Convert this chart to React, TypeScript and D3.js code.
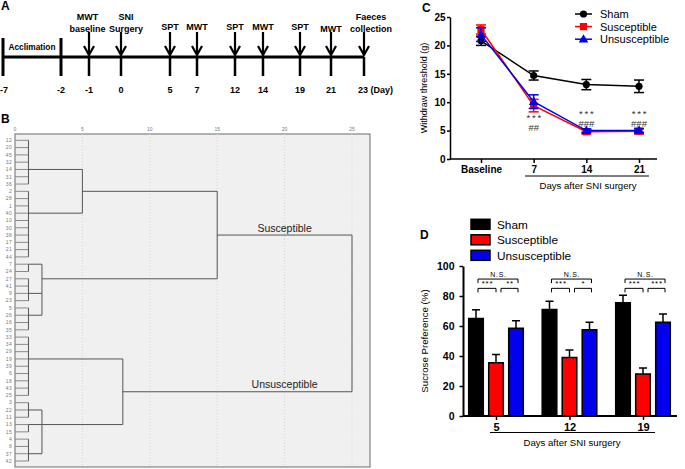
import React, { useRef, useEffect } from 'react';
import * as d3 from 'd3';

const FONT = '"Liberation Sans", Arial, sans-serif';

// ── Panel A: experimental timeline ──────────────────────────────────────────
const timelineDays = [-7, -2, -1, 0, 5, 7, 12, 14, 19, 21, 23];
const phaseDays = [-7, -2]; // acclimation period bounds
const timelineEvents = [
  { day: -1, label: ['MWT', 'baseline'] },
  { day: 0, label: ['SNI', 'Surgery'] },
  { day: 5, label: ['SPT'] },
  { day: 7, label: ['MWT'] },
  { day: 12, label: ['SPT'] },
  { day: 14, label: ['MWT'] },
  { day: 19, label: ['SPT'] },
  { day: 21, label: ['MWT'] },
  { day: 23, label: ['Faeces', 'collection'] },
];
// schematic (not to scale) horizontal stops for the timeline days
const timelineStops = [3, 61, 89, 121, 170, 197, 235, 263, 300, 331, 364];
// small horizontal nudges of the two-line event labels, as in the figure
const labelNudge: Record<string, number> = { '-1': -1.5, '0': 5, '23': 7 };

// ── Panel B: hierarchical clustering dendrogram ─────────────────────────────
type DNode = { height: number; stem?: string; children: (DNode | string)[] };
const dendroTree: DNode = {
  height: 25,
  children: [
    {
      height: 15,
      children: [
        {
          height: 5,
          children: [
            { height: 1, stem: '14', children: ['12', '20', '45', '32', '14', '31', '36'] },
            { height: 1, stem: '40', children: ['2', '28', '1', '40', '10', '30', '38', '17', '21', '44'] },
          ],
        },
        {
          height: 2,
          stem: '27',
          children: [
            { height: 1, stem: '7', children: ['7', '24'] },
            { height: 1, stem: '9', children: ['27', '41', '9', '23'] },
            { height: 1, stem: '26', children: ['5', '26', '16', '35'] },
          ],
        },
      ],
    },
    {
      height: 8,
      children: [
        { height: 1, stem: '19', children: ['33', '34', '29', '19', '39', '6', '18', '43', '25'] },
        {
          height: 2,
          stem: '13',
          children: [
            { height: 1, stem: '22', children: ['3', '22', '11'] },
            { height: 1, stem: '13', children: ['13', '15'] },
            { height: 1, stem: '37', children: ['4', '8', '37', '42'] },
          ],
        },
      ],
    },
  ],
};
const clusterNames = ['Susceptible', 'Unsusceptible'];
const dendroTicks = [0, 5, 10, 15, 20, 25];

// ── Panel C: mechanical withdrawal threshold ────────────────────────────────
const groupNames = ['Sham', 'Susceptible', 'Unsusceptible'];
const groupColors = ['#000000', '#ff0000', '#0000ee'];
const mwtCategories = ['Baseline', '7', '14', '21'];
const mwtSham = [20.8, 14.7, 13.1, 12.8];
const mwtShamErr = [0.8, 0.8, 0.9, 1.1];
const mwtSus = [22.8, 9.4, 4.8, 4.9];
const mwtSusErr = [0.8, 1.1, 0.4, 0.5];
const mwtUns = [21.9, 10.1, 5.0, 5.0];
const mwtUnsErr = [1.2, 1.2, 0.3, 0.3];
const mwtTicks = [0, 5, 10, 15, 20, 25];
const mwtMarks = [
  { cat: '7', stars: '***', hashes: '##' },
  { cat: '14', stars: '***', hashes: '###' },
  { cat: '21', stars: '***', hashes: '###' },
];

// ── Panel D: sucrose preference ─────────────────────────────────────────────
const sptDays = ['5', '12', '19'];
const sptSham = [65, 71, 75.5];
const sptShamErr = [5.8, 5.5, 5.0];
const sptSus = [35.5, 39, 28];
const sptSusErr = [5.5, 5.0, 4.0];
const sptUns = [58.5, 57.5, 62.5];
const sptUnsErr = [5.0, 5.0, 5.5];
const sptTicks = [0, 20, 40, 60, 80, 100];
const sptSig = [
  { day: '5', all: 'N.S.', left: '***', right: '**' },
  { day: '12', all: 'N.S.', left: '***', right: '*' },
  { day: '19', all: 'N.S.', left: '***', right: '***' },
];

type G = d3.Selection<SVGGElement, unknown, null, undefined>;

function panelLetter(g: G, letter: string, x: number, y: number) {
  g.append('text').attr('x', x).attr('y', y).attr('font-size', 12).attr('font-weight', 'bold').text(letter);
}

function drawTimeline(g: G) {
  const x = d3.scaleLinear().domain(timelineDays).range(timelineStops);
  const lineY = 57;
  panelLetter(g, 'A', 1, 10);

  g.append('line')
    .attr('x1', x(-7)).attr('x2', x(23))
    .attr('y1', lineY).attr('y2', lineY)
    .attr('stroke', '#000').attr('stroke-width', 3);

  timelineDays.forEach(d => {
    const tall = phaseDays.includes(d);
    g.append('line')
      .attr('x1', x(d)).attr('x2', x(d))
      .attr('y1', tall ? 38 : lineY).attr('y2', 76)
      .attr('stroke', '#000').attr('stroke-width', tall ? 3 : 2.5);
  });

  timelineDays.forEach((d, i) => {
    const last = i === timelineDays.length - 1;
    g.append('text')
      .attr('x', i === 0 ? 0 : last ? x(d) - 6 : x(d))
      .attr('y', 93)
      .attr('text-anchor', i === 0 || last ? 'start' : 'middle')
      .attr('font-size', 9).attr('font-weight', 'bold')
      .text(last ? `${d} (Day)` : `${d}`);
  });

  g.append('text')
    .attr('x', (x(phaseDays[0]) + x(phaseDays[1])) / 2).attr('y', 50)
    .attr('text-anchor', 'middle').attr('font-size', 8.3).attr('font-weight', 'bold')
    .text('Acclimation');

  timelineEvents.forEach(ev => {
    const cx = x(ev.day);
    g.append('line').attr('x1', cx).attr('x2', cx).attr('y1', 32).attr('y2', 54)
      .attr('stroke', '#000').attr('stroke-width', 2.2);
    g.append('path')
      .attr('d', `M${cx - 5},${46} L${cx},${55} L${cx + 5},${46}`)
      .attr('fill', 'none').attr('stroke', '#000').attr('stroke-width', 2.2);
    const lines = ev.label;
    const lx = cx + (labelNudge[String(ev.day)] || 0);
    lines.forEach((t, i) => {
      g.append('text')
        .attr('x', lx)
        .attr('y', lines.length === 2 ? 20 + i * 12 : ev.day === 21 ? 31.5 : 29.5)
        .attr('text-anchor', 'middle').attr('font-size', 9).attr('font-weight', 'bold')
        .text(t);
    });
  });
}

function collectLeaves(n: DNode | string, out: string[]) {
  if (typeof n === 'string') out.push(n);
  else n.children.forEach(c => collectLeaves(c, out));
  return out;
}

function drawDendrogram(g: G) {
  panelLetter(g, 'B', 1, 123);
  const leaves = collectLeaves(dendroTree, []);
  const xd = d3.scaleLinear().domain([0, 25]).range([15, 352]);
  const yd = d3.scalePoint<string>().domain(leaves).range([140.3, 461]);
  const top = 134, bottom = 467, right = 370;

  g.append('rect')
    .attr('x', xd(0)).attr('y', top)
    .attr('width', right - xd(0)).attr('height', bottom - top)
    .attr('fill', '#f0f0f0').attr('stroke', '#6a6a6a').attr('stroke-width', 1);

  dendroTicks.forEach(t => {
    if (t > 0) {
      g.append('line').attr('x1', xd(t)).attr('x2', xd(t)).attr('y1', top).attr('y2', bottom)
        .attr('stroke', '#d4d4d4').attr('stroke-dasharray', '1,2');
    }
    g.append('text').attr('x', xd(t)).attr('y', 131)
      .attr('text-anchor', 'middle').attr('font-size', 5).attr('fill', '#777').text(t);
  });

  leaves.forEach(l => {
    g.append('text').attr('x', 12.5).attr('y', (yd(l) as number) + 1.8)
      .attr('text-anchor', 'end').attr('font-size', 5).attr('letter-spacing', 0.6)
      .attr('fill', '#777').text(l);
  });

  const stemYs: number[] = [];
  const layout = (node: DNode, isRoot: boolean): number => {
    const ys = node.children.map(c => {
      if (typeof c === 'string') {
        const y = yd(c) as number;
        g.append('line').attr('x1', xd(0)).attr('x2', xd(node.height)).attr('y1', y).attr('y2', y)
          .attr('stroke', '#8a8a8a').attr('stroke-width', 1);
        return y;
      }
      const y = layout(c, false);
      g.append('line').attr('x1', xd(c.height)).attr('x2', xd(node.height)).attr('y1', y).attr('y2', y)
        .attr('stroke', '#555').attr('stroke-width', 1);
      if (isRoot) stemYs.push(y);
      return y;
    });
    const y0 = d3.min(ys) as number, y1 = d3.max(ys) as number;
    g.append('line').attr('x1', xd(node.height)).attr('x2', xd(node.height)).attr('y1', y0).attr('y2', y1)
      .attr('stroke', '#555').attr('stroke-width', 1);
    return node.stem ? (yd(node.stem) as number) : (y0 + y1) / 2;
  };
  layout(dendroTree, true);

  clusterNames.forEach((name, i) => {
    g.append('text').attr('x', xd(20)).attr('y', stemYs[i] - 3.5)
      .attr('text-anchor', 'middle').attr('font-size', 10.5).attr('fill', '#222').text(name);
  });
}

function drawThreshold(g: G) {
  panelLetter(g, 'C', 422, 12);
  const xC = d3.scalePoint<string>().domain(mwtCategories).range([481, 639]);
  const yC = d3.scaleLinear().domain([0, 25]).range([159, 17]);
  const axisX = 450, axisEnd = 657;

  const ya = g.append('g').attr('transform', `translate(${axisX},0)`)
    .call(d3.axisLeft(yC).tickValues(mwtTicks).tickSize(3).tickSizeOuter(0).tickPadding(1.5));
  ya.select('.domain').attr('stroke-width', 1.5);
  ya.selectAll('.tick line').attr('stroke-width', 1.5);
  ya.selectAll('.tick text').attr('font-size', 10).attr('font-weight', 'bold').attr('font-family', FONT);

  g.append('line').attr('x1', axisX).attr('x2', axisEnd).attr('y1', yC(0)).attr('y2', yC(0))
    .attr('stroke', '#000').attr('stroke-width', 1.5);
  const xa = g.append('g').attr('transform', `translate(0,${yC(0)})`)
    .call(d3.axisBottom(xC).tickSize(4).tickPadding(3));
  xa.select('.domain').remove();
  xa.selectAll('.tick line').attr('stroke-width', 1.5);
  xa.selectAll('.tick text').attr('font-size', 10).attr('font-weight', 'bold').attr('font-family', FONT);

  g.append('line').attr('x1', 525).attr('x2', 649).attr('y1', 176).attr('y2', 176)
    .attr('stroke', '#000').attr('stroke-width', 1);
  g.append('text').attr('x', 588).attr('y', 189).attr('text-anchor', 'middle')
    .attr('font-size', 9.6).text('Days after SNI surgery');

  g.append('text')
    .attr('transform', `translate(427,${(yC(0) + yC(25)) / 2}) rotate(-90)`)
    .attr('text-anchor', 'middle').attr('font-size', 9).text('Withdraw threshold (g)');

  const series = [
    { vals: mwtSham, errs: mwtShamErr },
    { vals: mwtSus, errs: mwtSusErr },
    { vals: mwtUns, errs: mwtUnsErr },
  ];
  const line = d3.line<number>().x((_, i) => xC(mwtCategories[i]) as number).y(v => yC(v));

  const marker = (sel: G, idx: number, cx: number, cy: number) => {
    const color = groupColors[idx];
    if (idx === 0) sel.append('circle').attr('cx', cx).attr('cy', cy).attr('r', 3.6).attr('fill', color);
    else if (idx === 1) sel.append('rect').attr('x', cx - 3.6).attr('y', cy - 3.6).attr('width', 7.2).attr('height', 7.2).attr('fill', color);
    else sel.append('path').attr('d', d3.symbol(d3.symbolTriangle, 40)()).attr('transform', `translate(${cx},${cy + 0.5})`).attr('fill', color);
  };

  series.forEach((s, si) => {
    const color = groupColors[si];
    g.append('path').datum(s.vals).attr('d', line).attr('fill', 'none')
      .attr('stroke', color).attr('stroke-width', 1.5);
    s.vals.forEach((v, i) => {
      const cx = xC(mwtCategories[i]) as number;
      const lo = yC(v - s.errs[i]), hi = yC(v + s.errs[i]);
      g.append('line').attr('x1', cx).attr('x2', cx).attr('y1', lo).attr('y2', hi)
        .attr('stroke', color).attr('stroke-width', 1.5);
      [lo, hi].forEach(yy => g.append('line').attr('x1', cx - 5).attr('x2', cx + 5).attr('y1', yy).attr('y2', yy)
        .attr('stroke', color).attr('stroke-width', 1.5));
      marker(g, si, cx, yC(v));
    });
  });

  // stacked significance marks (*** over ###)
  mwtMarks.forEach(m => {
    const cx = xC(m.cat) as number;
    const base = m.cat === '7' ? 120.5 : 116.5;
    g.append('text').attr('x', cx + 1).attr('y', base).attr('text-anchor', 'middle')
      .attr('font-size', 9.5).attr('letter-spacing', 1.8).attr('fill', '#333').text(m.stars);
    g.append('text').attr('x', cx).attr('y', base + 10.7).attr('text-anchor', 'middle')
      .attr('font-size', 9.5).attr('fill', '#333').text(m.hashes);
  });

  groupNames.forEach((name, i) => {
    const cy = 14 + i * 12.6;
    g.append('line').attr('x1', 575).attr('x2', 592).attr('y1', cy).attr('y2', cy)
      .attr('stroke', groupColors[i]).attr('stroke-width', 1.5);
    marker(g, i, 583.5, cy);
    g.append('text').attr('x', 600).attr('y', cy + 4).attr('font-size', 11).text(name);
  });
}

function drawSucrose(g: G) {
  panelLetter(g, 'D', 420, 239);
  const x0 = d3.scalePoint<string>().domain(sptDays).range([496, 643]);
  const x1 = d3.scaleBand<string>().domain(groupNames).range([-27.3, 27.3]).paddingInner(0.27);
  const yD = d3.scaleLinear().domain([0, 100]).range([416, 266]);
  const axisX = 463, axisEnd = 677;

  const ya = g.append('g').attr('transform', `translate(${axisX},0)`)
    .call(d3.axisLeft(yD).tickValues(sptTicks).tickSize(3.5).tickSizeOuter(0).tickPadding(5));
  ya.select('.domain').attr('stroke-width', 2);
  ya.selectAll('.tick line').attr('stroke-width', 1.5);
  ya.selectAll('.tick text').attr('font-size', 10.5).attr('font-weight', 'bold').attr('font-family', FONT);

  const series = [
    { vals: sptSham, errs: sptShamErr },
    { vals: sptSus, errs: sptSusErr },
    { vals: sptUns, errs: sptUnsErr },
  ];
  const bw = x1.bandwidth();
  series.forEach((s, si) => {
    s.vals.forEach((v, i) => {
      const bx = (x0(sptDays[i]) as number) + (x1(groupNames[si]) as number);
      const cx = bx + bw / 2;
      const top = yD(v + s.errs[i]);
      g.append('line').attr('x1', cx).attr('x2', cx).attr('y1', yD(v)).attr('y2', top)
        .attr('stroke', '#000').attr('stroke-width', 1.5);
      g.append('line').attr('x1', cx - 4).attr('x2', cx + 4).attr('y1', top).attr('y2', top)
        .attr('stroke', '#000').attr('stroke-width', 1.5);
      g.append('rect').attr('x', bx).attr('y', yD(v)).attr('width', bw).attr('height', yD(0) - yD(v))
        .attr('fill', groupColors[si]).attr('stroke', '#000').attr('stroke-width', 1.5);
    });
  });

  g.append('line').attr('x1', axisX).attr('x2', axisEnd).attr('y1', yD(0)).attr('y2', yD(0))
    .attr('stroke', '#000').attr('stroke-width', 2);
  const xa = g.append('g').attr('transform', `translate(0,${yD(0)})`)
    .call(d3.axisBottom(x0).tickSize(4).tickPadding(3));
  xa.select('.domain').remove();
  xa.selectAll('.tick line').attr('stroke-width', 1.5);
  xa.selectAll('.tick text').attr('font-size', 11).attr('font-weight', 'bold').attr('font-family', FONT);

  g.append('line').attr('x1', 490).attr('x2', 655).attr('y1', 432.5).attr('y2', 432.5)
    .attr('stroke', '#000').attr('stroke-width', 1);
  g.append('text').attr('x', 572).attr('y', 445.5).attr('text-anchor', 'middle')
    .attr('font-size', 9.6).text('Days after SNI surgery');

  g.append('text')
    .attr('transform', `translate(428,${(yD(0) + yD(100)) / 2}) rotate(-90)`)
    .attr('text-anchor', 'middle').attr('font-size', 9.7).text('Sucrose Preference (%)');

  const bracket = (xa1: number, xb: number, yv: number, label: string) => {
    const y = yD(yv);
    g.append('path').attr('d', `M${xa1},${y + 4} V${y} H${xb} V${y + 4}`)
      .attr('fill', 'none').attr('stroke', '#000').attr('stroke-width', 1);
    g.append('text').attr('x', (xa1 + xb) / 2 + 0.5).attr('y', y - 2.5).attr('text-anchor', 'middle')
      .attr('font-size', label === 'N.S.' ? 7 : 8).attr('letter-spacing', 0.7).text(label);
  };
  sptSig.forEach(s => {
    const c = x0(s.day) as number;
    const cS = c + (x1('Sham') as number) + bw / 2 + 2;
    const cR = c + (x1('Susceptible') as number) + bw / 2;
    const cU = c + (x1('Unsusceptible') as number) + bw / 2 + 2;
    bracket(cS, cU, 91.3, s.all);
    bracket(cS, cR, 85.1, s.left);
    bracket(cR + 5, cU, 85.1, s.right);
  });

  groupNames.forEach((name, i) => {
    const cy = 224.3 + i * 15.5;
    g.append('rect').attr('x', 471).attr('y', cy - 5).attr('width', 19).attr('height', 10)
      .attr('fill', groupColors[i]).attr('stroke', '#000').attr('stroke-width', 1.5);
    g.append('text').attr('x', 497).attr('y', cy + 4.3).attr('font-size', 11.8).text(name);
  });
}

export default function App() {
  const svgRef = useRef<SVGSVGElement>(null);

  useEffect(() => {
    if (!svgRef.current) return;
    const svg = d3.select(svgRef.current);
    svg.selectAll('*').remove();
    svg.attr('font-family', FONT);

    drawTimeline(svg.append('g'));
    drawDendrogram(svg.append('g'));
    drawThreshold(svg.append('g'));
    drawSucrose(svg.append('g'));
  }, []);

  return (
    <svg
      ref={svgRef}
      width={685}
      height={469}
      style={{ position: 'absolute', left: 0, top: 0, background: '#fff' }}
    />
  );
}
